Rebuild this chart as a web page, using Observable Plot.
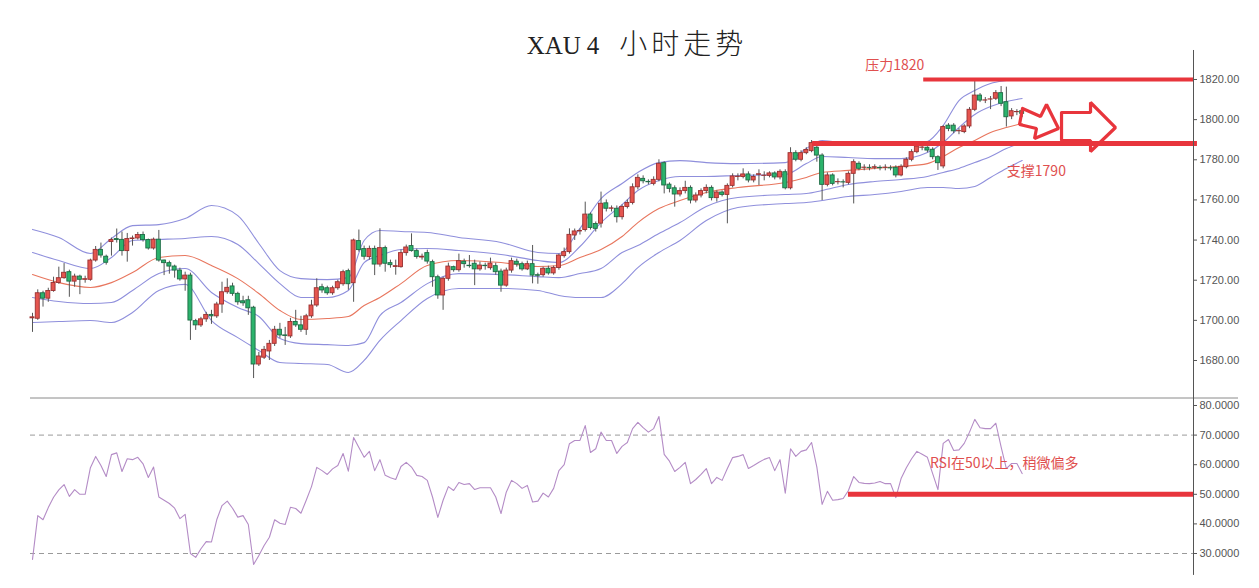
<!DOCTYPE html>
<html><head><meta charset="utf-8">
<script src="https://cdn.jsdelivr.net/npm/d3@7"></script>
<script src="https://cdn.jsdelivr.net/npm/@observablehq/plot@0.6"></script>
<style>
body{margin:0;background:#fff;}
#wrap{position:relative;width:1259px;height:588px;overflow:hidden;background:#fff;}
#title{position:absolute;top:22px;left:637px;transform:translateX(-50%);font-family:"Liberation Serif",serif;font-size:25px;color:#222;white-space:pre;line-height:40px;}
#title .n{margin-left:6px;}
#title .cjk{font-family:"Noto Sans CJK SC",sans-serif;font-size:28px;font-weight:300;letter-spacing:4px;margin-left:20px;}
#price{position:absolute;left:0;top:0;}
#rsi{position:absolute;left:0;top:397px;}
</style></head><body>
<div id="wrap"><div id="price"></div><div id="rsi"></div><div id="title"><span>XAU</span><span class="n">4</span><span class="cjk">小时走势</span></div></div>
<script>
// ---- candle data (4h bars, index 0..188) ----
const open = [1701,1700.8,1713.5,1710.8,1714.6,1718.6,1721,1724,1719.3,1721.8,1720.2,1720.2,1729.8,1735.1,1731.7,1739,1740.5,1740.1,1734.5,1740.5,
1740.8,1742.5,1740,1735.8,1740.2,1729.8,1728.5,1726.8,1724.8,1720.4,1722.3,1699.6,1697.5,1700.5,1702.7,1702,1707.9,1714,1716.9,1713.2,
1709.5,1710,1706.3,1678,1681.4,1684.5,1688.3,1695.3,1692.5,1692,1699.2,1697.5,1695.3,1702,1707.4,1716.5,1716,1713.5,1716,1718,
1724.5,1718.5,1739.5,1735.5,1731.5,1735.6,1727.8,1736,1728.5,1726.6,1726.5,1733.5,1737,1734.5,1731.3,1733.5,1729,1721.5,1712.4,1720.7,
1726.5,1725,1729.2,1727.2,1728.2,1725.4,1727.2,1726,1727,1724.3,1717.3,1724.8,1729.2,1728,1725.4,1728,1722.5,1722.5,1725.7,1723.4,
1726.1,1732,1734,1742.3,1744.3,1745,1752.7,1748,1748.2,1758.3,1755.6,1755.6,1751.4,1756.5,1758.5,1766.3,1770.5,1769,1768,1770,
1778.3,1767.6,1765.8,1762.7,1764.4,1766,1759.7,1762.2,1764.4,1766,1760.9,1763.7,1762.5,1767,1771.4,1771.4,1772.7,1769.7,1772.5,1772,
1772,1773.2,1771.2,1773.8,1765.8,1783.3,1780,1783.3,1784.3,1786,1782.1,1767.5,1772.2,1768.8,1768.8,1768.5,1773,1778,1776,1776,
1776,1776,1776,1775.8,1776,1772.2,1776.3,1780,1783.8,1786,1786,1785,1781.3,1776.7,1797,1797,1794.2,1793.8,1796.6,1804.9,
1812,1809.5,1810,1810.4,1813.2,1808.7,1801.6,1803.7,1804.2];
const high = [1703.5,1715.2,1714.5,1716,1721.5,1726.5,1728.3,1725,1723,1722.5,1722,1730.5,1736.8,1738.5,1732.5,1741,1745.5,1744,1743.3,1742,
1743.8,1744,1740.5,1741,1744.8,1730,1729.5,1727.5,1726,1724,1723.5,1700.5,1701.5,1704,1705,1709,1719,1720.7,1718.5,1714,
1712,1712,1707,1684,1687,1690,1697,1698.5,1696.5,1701,1705,1702,1703,1710,1720.7,1718,1717,1717,1720,1725,
1725.5,1740.5,1745,1737,1737,1737,1745.6,1737,1730,1730,1735,1737.5,1743.1,1735.5,1733,1735,1730,1722.5,1721.5,1728.5,
1727,1733,1730.5,1732.3,1730,1729,1728.5,1731,1728.5,1725.5,1726,1731,1730.5,1729,1729.5,1737.3,1723.5,1726.5,1727,1727,
1733,1736,1745.6,1745.5,1745.5,1758.9,1753.5,1749,1763.9,1760,1757,1757,1757.5,1760,1768,1772.5,1772,1770,1771.5,1780,
1779,1768.5,1767,1766,1769.3,1767,1763.5,1765.5,1767.5,1767,1764.5,1764.5,1768,1773,1773,1775.5,1774,1772.5,1775,1774,
1774,1774,1775,1775,1786,1784.5,1784.5,1786,1789.6,1788,1783,1773.5,1773,1770.5,1770,1774,1780,1779,1777.5,1777.5,
1777.5,1777,1777.5,1777,1777,1777.5,1781,1785,1788,1787.5,1786.5,1786,1782,1797,1798,1798,1795.5,1797.5,1806,1819.2,
1813,1811,1811.5,1814.5,1816.5,1816.2,1805.5,1805,1805];
const low = [1694,1700,1706.6,1709,1714,1718,1720.5,1711.5,1716.5,1712.8,1718.5,1719.5,1729,1731,1727.5,1732,1738.5,1732,1729,1737,
1740,1739,1735,1735,1729,1722.3,1723,1721,1719.5,1714.5,1690,1695,1696.5,1699,1698,1701,1703.5,1713,1712,1707.5,
1707,1702.5,1671,1677,1680.5,1680,1687,1691,1687.5,1691,1696.5,1694,1692.5,1701,1706.5,1713.5,1712.5,1712.5,1715,1717,
1715,1709,1734,1730,1730,1722.3,1726.5,1724,1726,1722.5,1726,1732,1734,1730.5,1730,1728,1716.5,1710.5,1705,1719.5,
1724,1724,1726,1726,1717.3,1724.5,1725,1725,1722.5,1714,1716.5,1723.5,1726.5,1724.5,1724.8,1718.2,1718,1721.5,1722.5,1722.5,
1725,1731,1733,1739.8,1742.5,1744,1745,1744,1746,1754,1754,1748.5,1750,1755.5,1757.5,1765,1768,1767.5,1767,1769,
1763,1763.5,1756.4,1761.5,1763,1758,1758.5,1761,1763,1759.5,1758.9,1761.5,1748.1,1766,1769.5,1770.5,1768.5,1768.5,1767.2,1769.5,
1771,1770,1770,1765,1765,1779,1779,1782.5,1783.5,1778.8,1759.7,1766.5,1767,1767.5,1766,1767.5,1758,1774.5,1774.5,1774.5,
1775,1774.5,1774.5,1774.5,1771,1771.5,1775.5,1779,1783,1784.5,1783.5,1780,1774.7,1775.5,1794,1793,1792.5,1793,1795.5,1804,
1808.5,1808,1805,1809.5,1806.5,1796.3,1800,1802,1801];
const close = [1701.5,1713.5,1710.8,1714.6,1718.6,1721,1723.7,1719.3,1721.8,1720.2,1720.5,1729.8,1735.1,1732.3,1728.7,1740,1740,1734.5,1740.5,1740.8,
1742.5,1740,1735.8,1740.2,1729.8,1728.5,1726.8,1724.8,1720.4,1722.3,1699.9,1697.5,1700.5,1702.7,1702,1707.9,1714,1716.2,1713.2,1709,
1708.5,1706,1678,1682,1685.3,1688.3,1695.3,1692.5,1692.2,1699.2,1697.5,1695.3,1702,1707.4,1716,1714.9,1713.5,1716,1719,1724,
1718,1739.8,1735,1731.7,1735.6,1727.8,1736,1728.2,1727.5,1727,1733.5,1736.3,1734.5,1731.6,1731.7,1729.3,1721.5,1712.4,1720.7,1726.8,
1725,1729.5,1728,1727,1725.4,1727.3,1727,1728.3,1724,1717.3,1724.8,1729.5,1727.8,1725.4,1728,1722.3,1722.2,1725.7,1723.4,1726.1,
1732.3,1734,1742.6,1744.3,1744.5,1752.7,1746,1745.6,1758.1,1755.6,1755.8,1751.4,1756.5,1758.5,1766.3,1771,1769.3,1768.8,1770,1778,
1767.2,1765.5,1762.7,1764.4,1766,1759.7,1762.2,1764.4,1766,1760.9,1763.7,1762.5,1767,1771.7,1771.6,1772.7,1769.7,1771.4,1772.8,1772.1,
1773.2,1771.2,1774,1765.8,1783.3,1780,1783.3,1784.9,1788.3,1782.1,1767.5,1772.2,1768,1768.9,1768.7,1773,1778.8,1775.5,1776.1,1775.9,
1776.3,1775.8,1776.1,1775.7,1772.2,1776.5,1780,1783.8,1786.6,1786.1,1784.6,1781.3,1778.3,1796.3,1795.4,1794.2,1794.3,1796.6,1804.9,1812,
1809.5,1809.6,1810.1,1813.2,1807.9,1801.2,1804.2,1803.8,1802.9];

// ---- band lines (x = bar index) ----
const bandIdx = [0,5,11,15,19,24,29,34,39,43,47,51,56,60,63,66,70,75,81,89,96,100,104,108,112,115,119,123,128,134,143,147,150,155,160,165,170,173,176,179,182,185,188];
const bandUpper2 = [1745.3,1741.3,1733.3,1740.8,1747.2,1747.7,1750.7,1757.2,1752.2,1738.3,1724.8,1720.8,1720.3,1721.3,1739.8,1744.8,1744.3,1743.8,1741.3,1738.8,1733.8,1733.3,1745.8,1760.7,1768.2,1773.7,1778.6,1779.6,1778.6,1778.1,1778.6,1785.6,1789.6,1788.1,1787.6,1787.1,1789.1,1797.1,1809.5,1814.5,1818,1819.5,1820.5];
const bandUpper1 = [1733.8,1729.8,1725.8,1731.3,1739.8,1740.3,1740.8,1741.8,1737.8,1728.3,1718.3,1711.4,1711.4,1714.9,1728.8,1732.3,1735.3,1735.8,1734.8,1732.8,1729.8,1728.8,1736.8,1748.7,1757.7,1764.7,1769.7,1771.7,1771.7,1772.2,1772.7,1778.1,1781.6,1781.1,1780.6,1780.6,1783.6,1788.6,1796.1,1802.6,1806.5,1809,1810.5];
const bandMid = [1722.8,1718.8,1716.4,1718.8,1723.8,1731.3,1732.3,1727.3,1720.8,1713.4,1704.9,1700.4,1700.9,1701.9,1707.4,1711.4,1718.3,1727.3,1729.8,1728.8,1726.8,1727.3,1731.3,1735.3,1741.8,1748.7,1755.7,1759.7,1763.7,1766.2,1768.7,1771.2,1773.7,1774.7,1775.7,1776.7,1778.1,1781.6,1786.1,1789.6,1793.6,1796.1,1798.1];
const bandLower1 = [1711.4,1709.4,1708.4,1708.9,1714.9,1723.3,1725.8,1713.9,1706.4,1701.9,1690.9,1688.4,1687.9,1687.5,1688.9,1702.4,1708.9,1718.3,1723.3,1722.8,1721.8,1721.3,1723.3,1725.8,1733.8,1737.3,1743.3,1748.7,1756.7,1761.2,1762.7,1763.2,1764.7,1767.7,1769.2,1770.2,1771.7,1773.7,1775.7,1778.6,1781.6,1785.6,1788.6];
const bandLower2 = [1698.9,1699.4,1699.9,1698.9,1703.9,1714.9,1717.9,1699.9,1691.4,1685.0,1679.0,1678.5,1678.0,1674.0,1680.0,1690.0,1699.9,1710.9,1715.9,1715.9,1714.9,1712.4,1711.4,1711.4,1718.3,1726.3,1733.8,1739.8,1749.7,1756.2,1758.2,1758.7,1759.7,1761.7,1762.7,1764.2,1766.2,1766.2,1765.7,1766.7,1771.2,1775.7,1779.6];

// ---- RSI (one value per bar) ----
const rsi = [28,42.8,41.4,45.5,49,51.5,53.3,49.3,51.6,50,50,59,62.8,59.7,56,63.4,64,57.7,62,61.7,
62.5,60.3,55.7,59.2,49.1,48,46.9,45.3,41.8,43.2,30,28.7,31.6,34,33.9,41.4,46.2,47.7,45.3,42.3,
42.8,39.8,26.3,29.3,32.7,35.5,41.4,40.2,39.8,45.6,45.2,43.6,48,52.6,59.1,58,56.7,58.6,59.7,63.8,
57.8,69.2,65.8,62.5,64.5,58,61.7,56.4,55.6,55,59.4,60.8,59.2,56.4,56,54.7,49,42.2,48,52.6,
51.3,54,53.3,53.6,51.6,52.2,52.2,52.2,49.1,43.5,50.7,54.7,53.6,52,53,47.4,47.7,50.4,49.1,52,
58,60,67.1,68.2,68.2,73.2,64.1,65.4,71,68.2,68.2,63.8,66.2,67.5,72.2,74.3,72.5,71,72.2,76.3,
63.5,61.2,57.7,59.1,60.8,53.6,55,56.7,58.7,53.6,55.7,54.7,58.7,62.4,62.8,63.4,58.7,59.7,60.8,61.8,
62.4,58,61.7,50.4,65.4,62.8,64.5,65,67.5,59.2,46.6,51,48,48.2,48.6,51.3,56,54,53.7,53.6,
53.8,54.3,53.6,53.6,48.9,55.3,59,62,64.5,63.5,62.5,57,51.6,67.2,68.5,64.8,65,67.2,71,75.3,
72.5,72.2,72.2,74,66,58.7,60.4,60.4,57];

// ---- axes & annotations ----
const priceTicks = [1680,1700,1720,1740,1760,1780,1800,1820];
const rsiTicks = [30,40,50,60,70,80];
const levelNames = ["resistance","support"];
const levelValues = [1820,1788.1];
const levelFrom = [169.3,148.2];
const levelTo = [220.55,221.3];
const levelWidth = [4,5];
const noteText = ["压力1820","支撑1790"];
const noteIdx = [163.8,190.7];
const noteVal = [1827,1774.2];
const rsiNote = "RSI在50以上，稍微偏多";
const rsiNoteIdx = 184.6, rsiNoteVal = 60.4;
const rsiLevel = 50, rsiLevelFrom = 155, rsiLevelTo = 220.55;
const rsiGuides = [70,30];
// arrow outlines (bar index, price)
const arrow1 = [[188.07,1805.55],[191.49,1801.56],[192.63,1807.54],[194.91,1795.59],[190.35,1790.6],[190.73,1795.59],[187.5,1797.58],[188.07,1805.55]];
const arrow2 = [[195.48,1803.56],[200.99,1803.56],[200.99,1808.54],[205.74,1796.08],[200.99,1784.12],[200.99,1789.6],[195.48,1789.6],[195.48,1803.56]];

// ---- build tables ----
const candles = open.map((o,i)=>({i, o, h: high[i], l: low[i], c: close[i]}));
const upBars = candles.filter(d => d.c >= d.o);
const downBars = candles.filter(d => d.c < d.o);
const band = arr => bandIdx.map((i,k)=>({i, v: arr[k]}));
const rsiRows = rsi.map((v,i)=>({i, v}));
const levels = levelNames.map((n,k)=>({n, v: levelValues[k], i1: levelFrom[k], i2: levelTo[k], w: levelWidth[k]}));
const notes = noteText.map((t,k)=>({t, i: noteIdx[k], v: noteVal[k]}));
const arrowRows = a => a.map(([i,v])=>({i,v}));

const X_DOMAIN = [-6.079, 220.55];
const AXIS_I = 220.55;
const RED = "#e8353c";
const PURPLE = "#8f8fdc";
const common = {width:1259, marginLeft:0, marginRight:66, marginTop:0, marginBottom:0,
  style:{fontFamily:"'Liberation Sans', Arial, sans-serif", fontSize:"11px", color:"#555", background:"transparent", overflow:"visible"}};

const pricePlot = Plot.plot({
  ...common, height:397,
  x:{domain:X_DOMAIN, axis:null},
  y:{domain:[1661.56,1859.36], axis:null},
  marks:[
    Plot.line(band(bandUpper2), {x:"i", y:"v", stroke:PURPLE, strokeWidth:1.1, curve:"monotone-x"}),
    Plot.line(band(bandUpper1), {x:"i", y:"v", stroke:PURPLE, strokeWidth:1.1, curve:"monotone-x"}),
    Plot.line(band(bandLower1), {x:"i", y:"v", stroke:PURPLE, strokeWidth:1.1, curve:"monotone-x"}),
    Plot.line(band(bandLower2), {x:"i", y:"v", stroke:PURPLE, strokeWidth:1.1, curve:"monotone-x"}),
    Plot.line(band(bandMid), {x:"i", y:"v", stroke:"#e8765e", strokeWidth:1.1, curve:"monotone-x"}),
    Plot.ruleX(candles, {x:"i", y1:"l", y2:"h", stroke:"#555", strokeWidth:1}),
    Plot.rect(upBars, {x1:d=>d.i-0.38, x2:d=>d.i+0.38, y1:"o", y2:"c", fill:"#e5554f", stroke:"#9a3030", strokeWidth:0.9}),
    Plot.rect(downBars, {x1:d=>d.i-0.38, x2:d=>d.i+0.38, y1:"o", y2:"c", fill:"#2bb36c", stroke:"#1e6b45", strokeWidth:0.9}),
    Plot.ruleY(levels, {y:"v", x1:"i1", x2:"i2", stroke:RED, strokeWidth:d=>d.w}),
    Plot.line(arrowRows(arrow1), {x:"i", y:"v", stroke:RED, strokeWidth:3.2, strokeLinejoin:"miter"}),
    Plot.line(arrowRows(arrow2), {x:"i", y:"v", stroke:RED, strokeWidth:3.2, strokeLinejoin:"miter"}),
    Plot.text(notes, {x:"i", y:"v", text:"t", fill:"#e0504f", fontSize:14, fontFamily:"'Noto Sans CJK SC', sans-serif"}),
    Plot.ruleX([{i:AXIS_I, a:1834.45, b:1661.56}], {x:"i", y1:"a", y2:"b", stroke:"#555", strokeWidth:1}),
    Plot.axisY(priceTicks, {anchor:"right", tickSize:3, tickPadding:3, tickFormat:d=>d.toFixed(2), label:null, fontSize:11})
  ]
});
document.getElementById("price").appendChild(pricePlot);

const rsiPlot = Plot.plot({
  ...common, height:191,
  x:{domain:X_DOMAIN, axis:null},
  y:{domain:[18.18,82.7], axis:null},
  marks:[
    Plot.ruleY([{v:82.53, a:-0.38, b:229.1}], {y:"v", x1:"a", x2:"b", stroke:"#8a8a8a", strokeWidth:1}),
    Plot.ruleY(rsiGuides.map(v=>({v, a:-0.38, b:AXIS_I})), {y:"v", x1:"a", x2:"b", stroke:"#9a9a9a", strokeWidth:1, strokeDasharray:"5,4"}),
    Plot.line(rsiRows, {x:"i", y:"v", stroke:"#b48cc6", strokeWidth:1.1}),
    Plot.ruleY([{v:rsiLevel, a:rsiLevelFrom, b:rsiLevelTo}], {y:"v", x1:"a", x2:"b", stroke:RED, strokeWidth:5}),
    Plot.text([{t:rsiNote, i:rsiNoteIdx, v:rsiNoteVal}], {x:"i", y:"v", text:"t", fill:"#e0504f", fontSize:14, fontFamily:"'Noto Sans CJK SC', sans-serif"}),
    Plot.ruleX([{i:AXIS_I, a:82.7, b:22.6}], {x:"i", y1:"a", y2:"b", stroke:"#555", strokeWidth:1}),
    Plot.axisY(rsiTicks, {anchor:"right", tickSize:3, tickPadding:3, tickFormat:d=>d.toFixed(4), label:null, fontSize:11})
  ]
});
document.getElementById("rsi").appendChild(rsiPlot);
</script>
</body></html>
